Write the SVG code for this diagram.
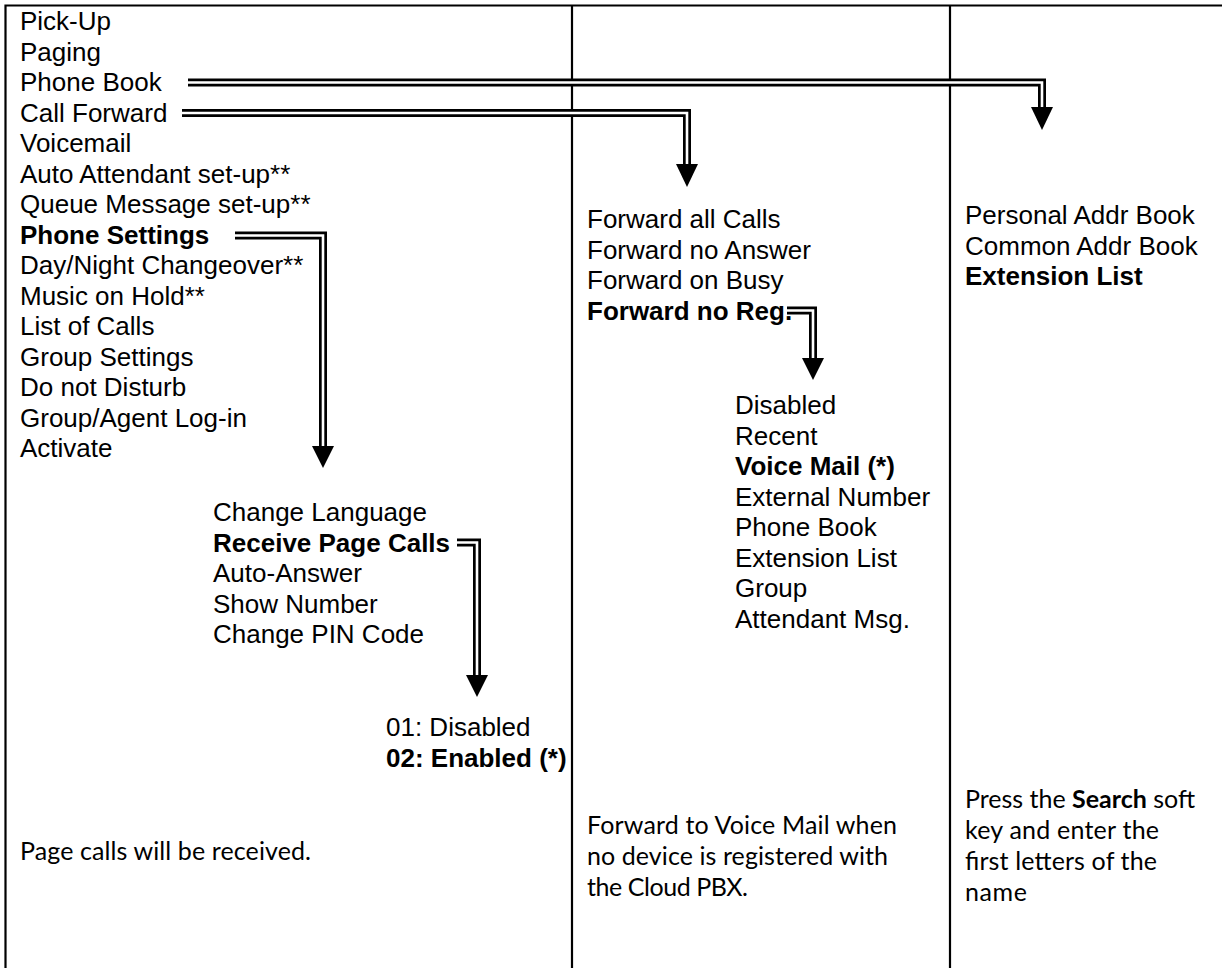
<svg xmlns="http://www.w3.org/2000/svg" width="1222" height="968" viewBox="0 0 1222 968">
<defs>
<style>
.t{font-family:"Liberation Sans",Arial,sans-serif;font-size:26px;fill:#000}
.b{font-weight:bold}
.c{font-family:Lato,"Open Sans",sans-serif;font-size:25px;fill:#000}
.grid{stroke:#000;stroke-width:2.2;fill:none}
.dl{fill:none;stroke:#000;stroke-width:8;stroke-linejoin:miter}
.dlw{fill:none;stroke:#fff;stroke-width:2.6;stroke-linejoin:miter}
.hd{fill:#000}
</style>
</defs>
<rect width="1222" height="968" fill="#fff"/>
<g id="table">
<path class="grid" d="M5.5,968 V5.5 H1222"/>
<path class="grid" d="M572,5.5 V968"/>
<path class="grid" d="M950,5.5 V968"/>
</g>
<g id="main-menu" class="t">
<text x="20" y="30">Pick-Up</text>
<text x="20" y="60.5">Paging</text>
<text x="20" y="91">Phone Book</text>
<text x="20" y="121.5">Call Forward</text>
<text x="20" y="152">Voicemail</text>
<text x="20" y="182.5">Auto Attendant set-up**</text>
<text x="20" y="213">Queue Message set-up**</text>
<text x="20" y="243.5" class="b">Phone Settings</text>
<text x="20" y="274">Day/Night Changeover**</text>
<text x="20" y="304.5">Music on Hold**</text>
<text x="20" y="335">List of Calls</text>
<text x="20" y="365.5">Group Settings</text>
<text x="20" y="396">Do not Disturb</text>
<text x="20" y="426.5">Group/Agent Log-in</text>
<text x="20" y="457">Activate</text>
</g>
<g id="phone-settings" class="t">
<text x="213" y="521">Change Language</text>
<text x="213" y="551.5" class="b">Receive Page Calls</text>
<text x="213" y="582">Auto-Answer</text>
<text x="213" y="612.5">Show Number</text>
<text x="213" y="643">Change PIN Code</text>
</g>
<g id="page-calls" class="t">
<text x="386" y="736">01: Disabled</text>
<text x="386" y="766.5" class="b">02: Enabled (*)</text>
</g>
<g id="note-page" class="c">
<text x="20" y="860" textLength="291">Page calls will be received.</text>
</g>
<g id="call-forward" class="t">
<text x="587" y="228">Forward all Calls</text>
<text x="587" y="258.5">Forward no Answer</text>
<text x="587" y="289">Forward on Busy</text>
<text x="587" y="319.5" class="b">Forward no Reg.</text>
</g>
<g id="no-reg" class="t">
<text x="735" y="414">Disabled</text>
<text x="735" y="444.5">Recent</text>
<text x="735" y="475" class="b">Voice Mail (*)</text>
<text x="735" y="505.5">External Number</text>
<text x="735" y="536">Phone Book</text>
<text x="735" y="566.5">Extension List</text>
<text x="735" y="597">Group</text>
<text x="735" y="627.5">Attendant Msg.</text>
</g>
<g id="note-forward" class="c">
<text x="587" y="833.5" textLength="310">Forward to Voice Mail when</text>
<text x="587" y="864.5" textLength="301">no device is registered with</text>
<text x="587" y="895.5" textLength="161">the Cloud PBX.</text>
</g>
<g id="phone-book" class="t">
<text x="965" y="224">Personal Addr Book</text>
<text x="965" y="254.5">Common Addr Book</text>
<text x="965" y="285" class="b">Extension List</text>
</g>
<g id="note-search" class="c">
<text x="965" y="807.5" textLength="230">Press the <tspan font-weight="bold">Search</tspan> soft</text>
<text x="965" y="838.5" textLength="194">key and enter the</text>
<text x="965" y="869.5" textLength="192">first letters of the</text>
<text x="965" y="900.5" textLength="62">name</text>
</g>
<g id="connectors">
<path class="dl" d="M188,82.5 H1042 V107"/>
<path class="dlw" d="M188,82.5 H1042 V107"/>
<path class="hd" d="M1031,107 H1053 L1042,130 Z"/>
<path class="dl" d="M182,113 H687 V164"/>
<path class="dlw" d="M182,113 H687 V164"/>
<path class="hd" d="M676,164 H698 L687,187 Z"/>
<path class="dl" d="M235,235.5 H323 V446"/>
<path class="dlw" d="M235,235.5 H323 V446"/>
<path class="hd" d="M312,446 H334 L323,468 Z"/>
<path class="dl" d="M457,542.5 H477 V675"/>
<path class="dlw" d="M457,542.5 H477 V675"/>
<path class="hd" d="M466,675 H488 L477,697 Z"/>
<path class="dl" d="M787,310.5 H813 V358"/>
<path class="dlw" d="M787,310.5 H813 V358"/>
<path class="hd" d="M802,358 H824 L813,380 Z"/>
</g>
</svg>
